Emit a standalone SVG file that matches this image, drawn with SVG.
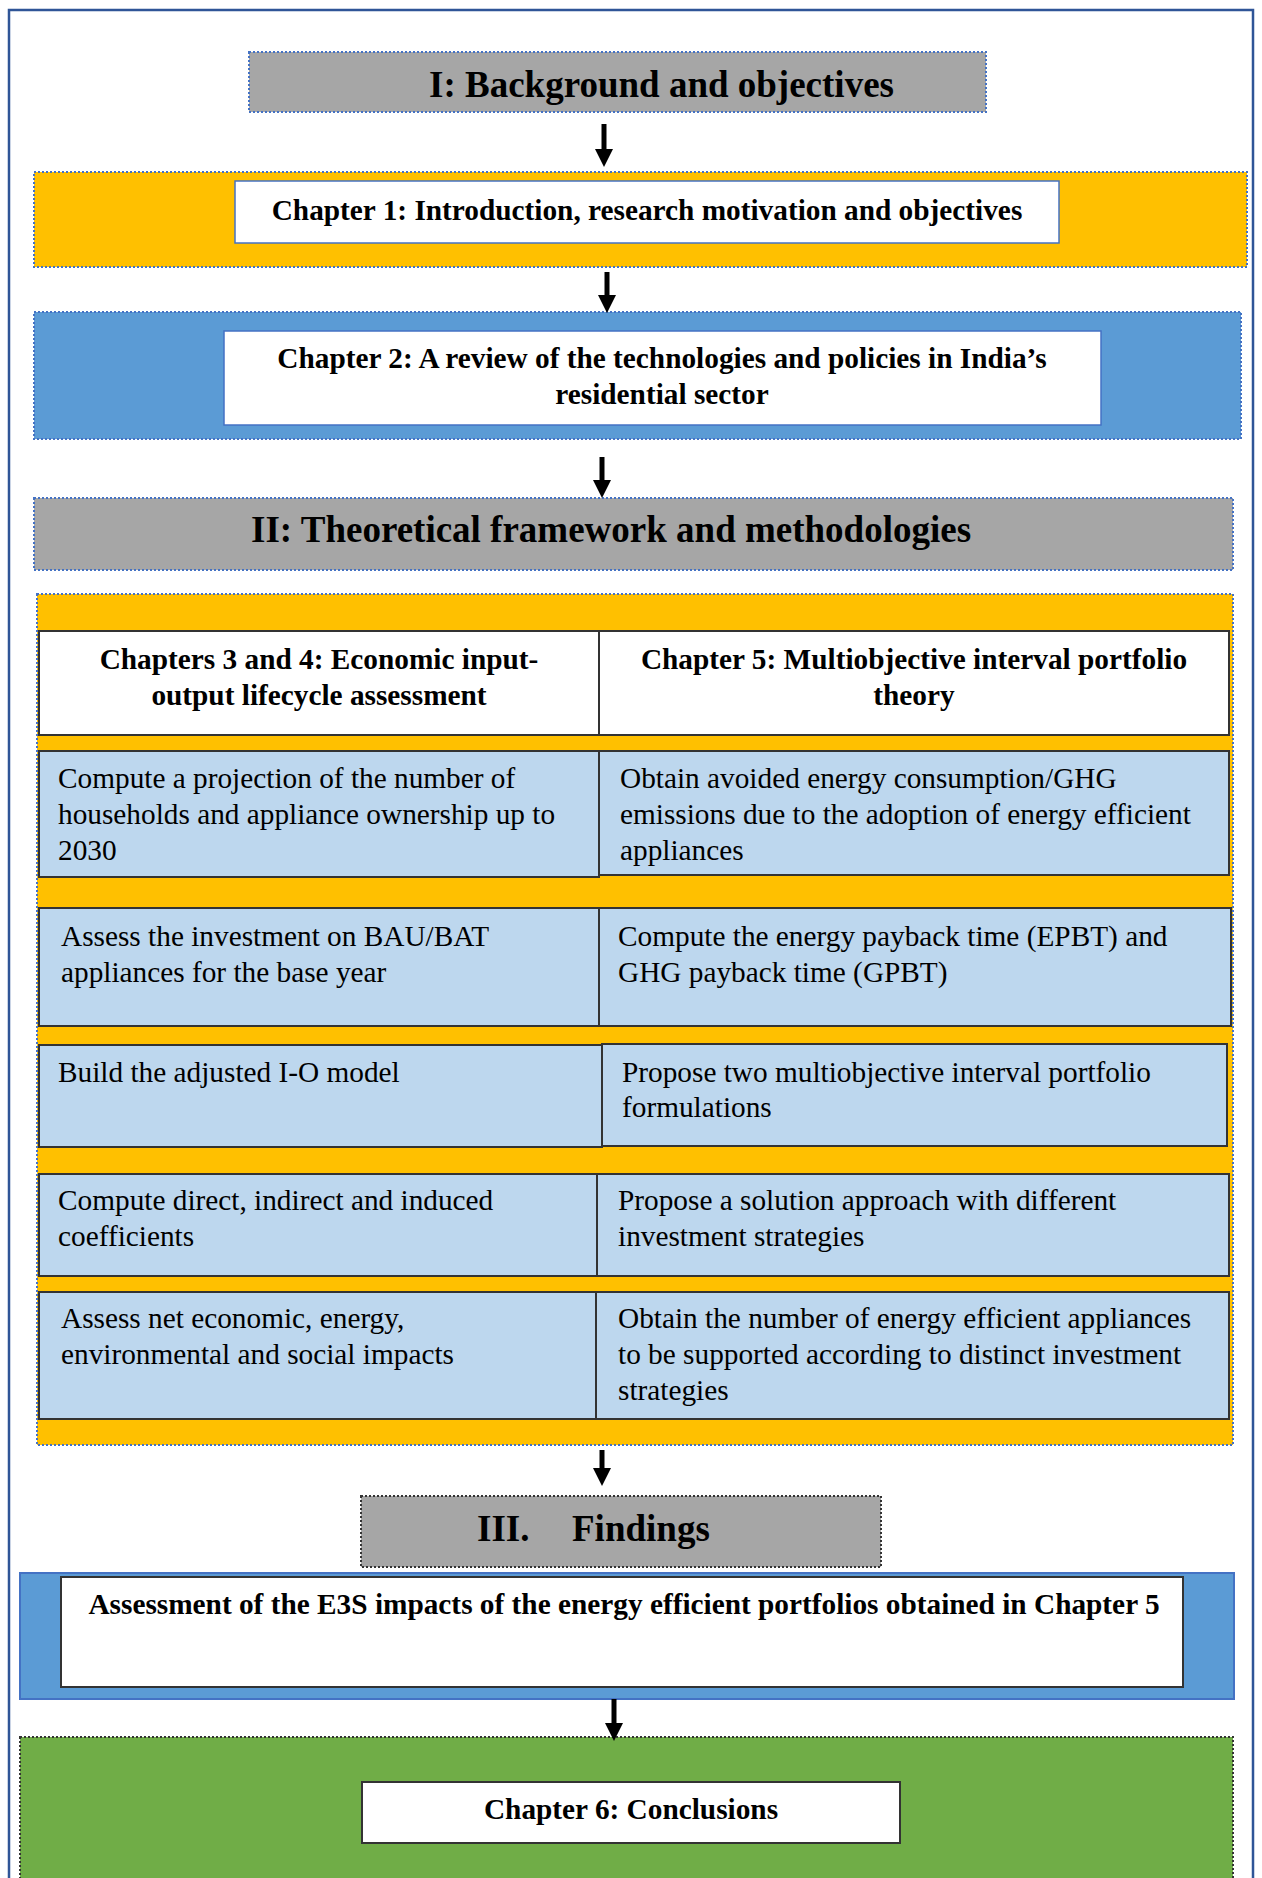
<svg xmlns="http://www.w3.org/2000/svg" width="1262" height="1878" viewBox="0 0 1262 1878">
<style>
.t{font-family:"Liberation Serif","Times New Roman",serif;font-size:29.3px;fill:#000}
.b{font-weight:bold}
.h{font-family:"Liberation Serif","Times New Roman",serif;font-size:37px;font-weight:bold;fill:#000}
.c{text-anchor:middle}
.dotb{stroke:#4472C4;stroke-width:2;stroke-dasharray:2 2}
.dotk{stroke:#333;stroke-width:2;stroke-dasharray:2 2}
.wb{fill:#fff;stroke:#4472C4;stroke-width:1.5}
.cellw{fill:#fff;stroke:#333;stroke-width:2}
.cellb{fill:#BDD7EE;stroke:#333;stroke-width:2}
.arr{stroke:#000;stroke-width:5;fill:none}
</style>
<defs>
<marker id="ah" markerUnits="userSpaceOnUse" markerWidth="18" markerHeight="18" refX="0" refY="9" orient="auto" viewBox="0 0 18 18">
<path d="M0 0 L18 9 L0 18 Z" fill="#000"/>
</marker>
</defs>
<rect x="9" y="10" width="1244" height="1890" fill="#fff" stroke="#2F5597" stroke-width="2.5"/>

<g id="sec1">
<rect x="249" y="52" width="737" height="60" fill="#A6A6A6" class="dotb"/>
<text class="h" x="429" y="97">I: Background and objectives</text>
</g>

<g id="ch1">
<rect x="34" y="172" width="1213" height="95" fill="#FFC000" class="dotb"/>
<rect x="235" y="181" width="824" height="62" class="wb"/>
<text class="t b c" x="647" y="220">Chapter 1: Introduction, research motivation and objectives</text>
</g>

<g id="ch2">
<rect x="34" y="312" width="1207" height="127" fill="#5B9BD5" class="dotb"/>
<rect x="224" y="331" width="877" height="94" class="wb"/>
<text class="t b c" x="662" y="368">Chapter 2: A review of the technologies and policies in India’s</text>
<text class="t b c" x="662" y="404">residential sector</text>
</g>

<g id="sec2">
<rect x="34" y="498" width="1199" height="72" fill="#A6A6A6" class="dotb"/>
<text class="h" x="251" y="542">II: Theoretical framework and methodologies</text>
</g>

<g id="methods">
<rect x="37" y="594" width="1196" height="851" fill="#FFC000" class="dotb"/>
</g>

<g id="hdr-left">
<rect x="39" y="631" width="560" height="104" class="cellw"/>
<text class="t b c" x="319" y="669">Chapters 3 and 4: Economic input-</text>
<text class="t b c" x="319" y="705">output lifecycle assessment</text>
</g>
<g id="hdr-right">
<rect x="599" y="631" width="630" height="104" class="cellw"/>
<text class="t b c" x="914" y="669">Chapter 5: Multiobjective interval portfolio</text>
<text class="t b c" x="914" y="705">theory</text>
</g>

<g id="r1-left">
<rect x="39" y="751" width="560" height="126" class="cellb"/>
<text class="t" x="58" y="788">Compute a projection of the number of</text>
<text class="t" x="58" y="824">households and appliance ownership up to</text>
<text class="t" x="58" y="860">2030</text>
</g>
<g id="r1-right">
<rect x="599" y="751" width="630" height="124" class="cellb"/>
<text class="t" x="620" y="788">Obtain avoided energy consumption/GHG</text>
<text class="t" x="620" y="824">emissions due to the adoption of energy efficient</text>
<text class="t" x="620" y="860">appliances</text>
</g>

<g id="r2-left">
<rect x="39" y="908" width="560" height="118" class="cellb"/>
<text class="t" x="61" y="946">Assess the investment on BAU/BAT</text>
<text class="t" x="61" y="982">appliances for the base year</text>
</g>
<g id="r2-right">
<rect x="599" y="908" width="632" height="118" class="cellb"/>
<text class="t" x="618" y="946">Compute the energy payback time (EPBT) and</text>
<text class="t" x="618" y="982">GHG payback time (GPBT)</text>
</g>

<g id="r3-left">
<rect x="39" y="1045" width="563" height="102" class="cellb"/>
<text class="t" x="58" y="1082">Build the adjusted I-O model</text>
</g>
<g id="r3-right">
<rect x="602" y="1044" width="625" height="102" class="cellb"/>
<text class="t" x="622" y="1082">Propose two multiobjective interval portfolio</text>
<text class="t" x="622" y="1117">formulations</text>
</g>

<g id="r4-left">
<rect x="39" y="1174" width="558" height="102" class="cellb"/>
<text class="t" x="58" y="1210">Compute direct, indirect and induced</text>
<text class="t" x="58" y="1246">coefficients</text>
</g>
<g id="r4-right">
<rect x="597" y="1174" width="632" height="102" class="cellb"/>
<text class="t" x="618" y="1210">Propose a solution approach with different</text>
<text class="t" x="618" y="1246">investment strategies</text>
</g>

<g id="r5-left">
<rect x="39" y="1292" width="557" height="127" class="cellb"/>
<text class="t" x="61" y="1328">Assess net economic, energy,</text>
<text class="t" x="61" y="1364">environmental and social impacts</text>
</g>
<g id="r5-right">
<rect x="596" y="1292" width="633" height="127" class="cellb"/>
<text class="t" x="618" y="1328">Obtain the number of energy efficient appliances</text>
<text class="t" x="618" y="1364">to be supported according to distinct investment</text>
<text class="t" x="618" y="1400">strategies</text>
</g>

<g id="sec3">
<rect x="361" y="1496" width="520" height="71" fill="#A6A6A6" class="dotk"/>
<text class="h" x="477" y="1541">III.</text>
<text class="h" x="572" y="1541">Findings</text>
</g>

<g id="findings">
<rect x="20" y="1573" width="1214" height="126" fill="#5B9BD5" stroke="#4472C4" stroke-width="2"/>
<rect x="61" y="1577" width="1122" height="110" class="cellw"/>
<text class="t b c" x="624" y="1614">Assessment of the E3S impacts of the energy efficient portfolios obtained in Chapter 5</text>
</g>

<g id="ch6">
<rect x="20" y="1737" width="1213" height="160" fill="#70AD47" class="dotk"/>
<rect x="362" y="1782" width="538" height="61" class="cellw"/>
<text class="t b c" x="631" y="1819">Chapter 6: Conclusions</text>
</g>

<g id="connectors">
<line class="arr" x1="604" y1="124" x2="604" y2="149" marker-end="url(#ah)"/>
<line class="arr" x1="607" y1="272" x2="607" y2="295" marker-end="url(#ah)"/>
<line class="arr" x1="602" y1="457" x2="602" y2="480" marker-end="url(#ah)"/>
<line class="arr" x1="602" y1="1450" x2="602" y2="1468" marker-end="url(#ah)"/>
<line class="arr" x1="614" y1="1699" x2="614" y2="1723" marker-end="url(#ah)"/>
</g>
</svg>
